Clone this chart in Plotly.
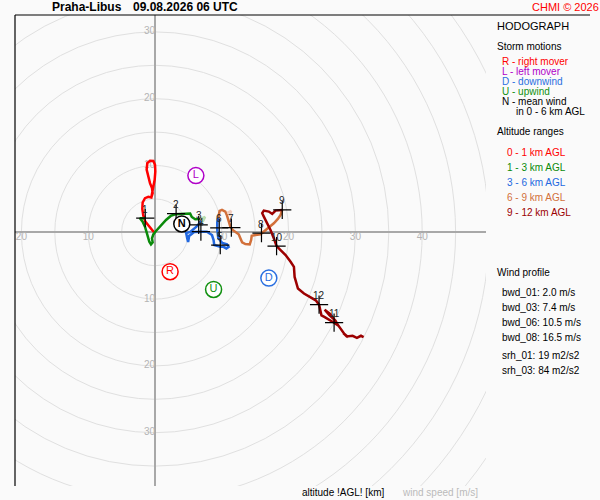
import plotly.graph_objects as go

# wind components in m/s
red_u = [-0.15, -0.85, -1.45, -1.75, -1.90, -1.85, -1.50, -1.00, -0.55, -0.35, -0.45, -0.75, -1.05,
         -1.25, -1.15, -0.75, -0.25, 0.00, 0.05, -0.05, -0.25, -0.40, -0.55, -1.00, -1.50, -1.85,
         -1.90, -1.75, -1.50]
red_v = [0.00, 0.85, 1.60, 2.50, 3.50, 4.46, 5.11, 5.31, 5.21, 5.86, 6.61, 7.36, 8.37,
         9.38, 10.37, 10.72, 10.67, 10.12, 9.12, 7.86, 6.86, 6.02, 5.21, 5.31, 5.11, 4.46,
         3.50, 2.50, 2.10]

green_u = [-1.50, -2.26, -1.85, -1.50, -1.25, -1.05, -0.85, -0.60, -0.35, -0.45, -0.25, 0.15,
           0.85, 1.65, 2.36, 3.01, 3.76, 4.51, 5.26, 5.51, 6.02, 6.77]
green_v = [2.10, 2.10, 1.60, 0.85, 0.00, -0.71, -1.41, -1.81, -1.51, -0.91, -0.31, 0.20,
           1.00, 1.85, 2.45, 2.70, 2.75, 2.75, 2.80, 2.30, 1.95, 2.00]

pale_green_u = [6.77, 7.50, 7.20, 6.90]
pale_green_v = [2.00, 2.30, 1.70, 1.70]

blue_u = [6.92, 6.17, 5.26, 4.66, 4.81, 4.96, 5.11, 5.86, 6.87, 7.77, 8.53, 8.77, 8.87, 9.28,
          9.77, 10.27, 10.68, 11.02, 10.78, 10.08, 9.47, 9.32, 9.32, 9.47]
blue_v = [1.70, 0.80, 0.05, -0.11, -0.86, -1.46, -0.56, 0.05, 0.09, 0.09, -0.41, -1.16, -1.91,
          -2.06, -2.17, -2.17, -2.41, -2.17, -1.80, -1.61, -0.86, 0.35, 1.55, 2.15]

orange_u = [9.47, 9.67, 10.03, 10.53, 10.78, 11.02, 11.28, 11.62, 12.03, 12.53, 12.78, 13.04,
            13.53, 14.18, 14.39, 14.48, 15.04, 15.79, 16.39, 17.04, 17.79, 18.39, 18.80, 19.05]
orange_v = [2.15, 3.20, 3.35, 3.10, 2.50, 1.70, 0.84, 0.35, 0.00, -0.30, -0.90, -1.50,
            -1.76, -1.80, -1.16, -0.51, -0.41, -0.30, 0.20, 0.69, 1.35, 2.00, 2.60, 3.35]

pale_orange_u = [10.80, 11.40, 11.10]
pale_orange_v = [2.90, 3.20, 2.45]

darkred_u = [19.05, 18.05, 17.55, 17.04, 16.29, 16.05, 16.29, 16.80, 17.29, 17.79, 18.20, 18.80,
             19.55, 20.30, 20.80, 20.90, 21.20, 21.40, 22.30, 23.31, 24.06, 24.56, 24.81, 24.92,
             25.41, 26.32, 26.81, 27.41, 27.00, 26.10, 25.40, 26.20, 27.41, 27.82, 28.32, 28.92,
             28.60, 28.20, 28.70, 29.58, 30.23, 30.83, 31.23]
darkred_v = [3.35, 3.25, 2.75, 3.10, 3.25, 2.86, 2.35, 1.35, 0.35, -0.90, -2.06, -2.66,
             -3.41, -4.42, -5.17, -6.68, -7.67, -8.42, -9.17, -9.68, -10.18, -10.83, -11.68, -12.44,
             -12.69, -13.19, -13.53, -13.94, -13.20, -12.40, -11.60, -12.20, -13.94, -14.59, -15.19, -15.70,
             -15.40, -15.10, -15.60, -15.49, -15.79, -15.49, -15.70]

km_labels = ['1', '2', '3', '4', '5', '6', '7', '8', '9', '10', '11', '12']
km_u = [-1.46, 3.16, 6.54, 6.87, 9.77, 9.62, 11.43, 15.94, 19.05, 18.20, 26.81, 24.56]
km_v = [2.11, 2.80, 1.10, 0.09, -1.91, 0.65, 0.69, -0.11, 3.35, -2.06, -13.53, -10.83]

storm_letters = ['R', 'L', 'D', 'U', '<b>N</b>']
storm_u = [2.26, 6.12, 17.04, 8.77, 4.01]
storm_v = [-5.90, 8.49, -6.86, -8.56, 1.25]
storm_colors = ['#ff0000', '#b000c8', '#2a6fe0', '#109010', '#000000']

ring_speeds = list(range(5, 75, 5))
v_ring_labels = [30, 20, 10, -10, -20, -30]
u_ring_labels = [-20, -10, 10, 20, 30, 40]

bwd_names = ['bwd_01', 'bwd_03', 'bwd_06', 'bwd_08']
bwd_values = [2.0, 7.4, 10.5, 16.5]
srh_names = ['srh_01', 'srh_03']
srh_values = [19, 84]

FONT = 'Liberation Sans, Arial, sans-serif'
BG = '#fafafa'

fig = go.Figure()

# ring speed labels (under the traces)
fig.add_trace(go.Scatter(
    x=[0] * len(v_ring_labels), y=v_ring_labels, mode='text',
    text=[str(abs(v)) for v in v_ring_labels], textposition='middle left',
    textfont=dict(family=FONT, size=10, color='#b4b4b4'), hoverinfo='skip'))
fig.add_trace(go.Scatter(
    x=u_ring_labels, y=[0] * len(u_ring_labels), mode='text',
    text=[str(abs(u)) for u in u_ring_labels], textposition='bottom center',
    textfont=dict(family=FONT, size=10, color='#b4b4b4'), hoverinfo='skip'))

segments = [
    (red_u, red_v, '#ff0000'),
    (green_u, green_v, '#0a8a0a'),
    (pale_green_u, pale_green_v, '#b8dcb0'),
    (blue_u, blue_v, '#2268e0'),
    (orange_u, orange_v, '#d2703a'),
    (pale_orange_u, pale_orange_v, '#f2cdbf'),
    (darkred_u, darkred_v, '#9c0000'),
]
for u, v, c in segments:
    fig.add_trace(go.Scatter(x=u, y=v, mode='lines', line=dict(color=c, width=2.5),
                             hoverinfo='skip'))

# altitude crosses
fig.add_trace(go.Scatter(
    x=km_u, y=km_v, mode='markers',
    marker=dict(symbol='cross-thin', size=13, line=dict(color='black', width=1.2)),
    hoverinfo='skip'))

# storm motion circles
fig.add_trace(go.Scatter(
    x=storm_u, y=storm_v, mode='markers+text', text=storm_letters,
    textposition='middle center',
    textfont=dict(family=FONT, size=11, color=storm_colors),
    marker=dict(size=16, color='white', line=dict(color=storm_colors, width=1.5)),
    hoverinfo='skip'))

annotations = []
for lab, u, v in zip(km_labels, km_u, km_v):
    annotations.append(dict(x=u, y=v, xref='x', yref='y', text=lab, showarrow=False,
                            yshift=9, font=dict(family=FONT, size=10, color='#222222')))


def px(x):
    return (x - 15) / 471


def py(y):
    return (486 - y) / 471


def note(text, x, y, color='#000000', size=10, anchor='left'):
    annotations.append(dict(x=px(x), y=py(y), xref='paper', yref='paper', text=text,
                            showarrow=False, xanchor=anchor, yanchor='middle',
                            font=dict(family=FONT, size=size, color=color)))


note('<b>Praha-Libus</b>', 50, 7, size=12)
note('<b>09.08.2026 06 UTC</b>', 131, 7, size=12)
note('CHMI © 2026', 530, 7, color='#ff0000', size=11)

note('HODOGRAPH', 495, 26, size=11)
note('Storm motions', 495, 47)
note('R - right mover', 500, 62, color='#ff0000')
note('L - left mover', 500, 72, color='#b000c8')
note('D - downwind', 500, 82, color='#2a6fe0')
note('U - upwind', 500, 92, color='#109010')
note('N - mean wind', 500, 102)
note('in 0 - 6 km AGL', 514, 112)

note('Altitude ranges', 495, 132)
range_texts = ['0 - 1 km AGL', '1 - 3 km AGL', '3 - 6 km AGL', '6 - 9 km AGL', '9 - 12 km AGL']
range_colors = ['#ff0000', '#0a8a0a', '#2268e0', '#d2703a', '#9c0000']
for i, (t, c) in enumerate(zip(range_texts, range_colors)):
    note(t, 505, 152 + 15 * i, color=c)

note('Wind profile', 495, 272)
for i, (n, val) in enumerate(zip(bwd_names, bwd_values)):
    note(f'{n}: {val:.1f} m/s', 500, 292 + 15 * i)
for i, (n, val) in enumerate(zip(srh_names, srh_values)):
    note(f'{n}: {val} m2/s2', 500, 355 + 15 * i)

note('altitude !AGL! [km]', 300, 492)
note('wind speed [m/s]', 400, 492, color='#bbbbbb')

shapes = []
for r in ring_speeds:
    shapes.append(dict(type='circle', xref='x', yref='y', x0=-r, x1=r, y0=-r, y1=r,
                       line=dict(color='#e0e0e0', width=1), layer='below'))
shapes.append(dict(type='line', xref='paper', yref='paper', x0=px(15), x1=px(590),
                   y0=py(15), y1=py(15), line=dict(color='black', width=1.2)))
shapes.append(dict(type='line', xref='paper', yref='paper', x0=px(15), x1=px(15),
                   y0=py(15), y1=py(486), line=dict(color='black', width=1.2)))

scale = 6.68
fig.update_xaxes(range=[(15 - 155) / scale, (486 - 155) / scale], showgrid=False,
                 zeroline=True, zerolinecolor='#a8a8a8', zerolinewidth=1.5,
                 showticklabels=False, ticks='')
fig.update_yaxes(range=[(232.3 - 486) / scale, (232.3 - 15) / scale], showgrid=False,
                 zeroline=True, zerolinecolor='#a8a8a8', zerolinewidth=1.5,
                 showticklabels=False, ticks='')

fig.update_layout(
    width=600, height=500,
    margin=dict(l=15, r=114, t=15, b=14),
    paper_bgcolor=BG, plot_bgcolor=BG,
    showlegend=False,
    annotations=annotations,
    shapes=shapes,
    font=dict(family=FONT),
)

# the page's default body margin would push the figure off the 600x500 window
fig.write_html("out.html", config={'displayModeBar': False},
               post_script="document.body.style.margin='0';")
